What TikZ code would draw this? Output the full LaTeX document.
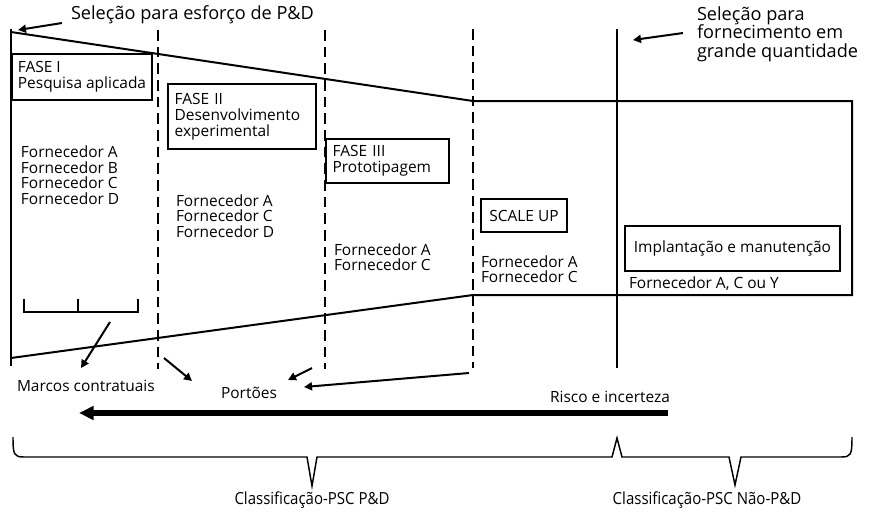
\documentclass[tikz,border=0pt]{standalone}
\usepackage{fontspec}
\setmainfont{Open Sans}
\newfontfamily\condfont[FakeStretch=0.9]{Open Sans}
\usetikzlibrary{arrows.meta}

\begin{document}
\begin{tikzpicture}[x=0.75pt,y=-0.75pt,line width=1.5pt,
    lbl/.style={font=\fontsize{11.6}{11.6}\selectfont, inner sep=0pt, align=left},
    head/.style={font=\fontsize{13.6}{14}\selectfont, inner sep=0pt, align=left},
    phase/.style={draw, line width=1.5pt, font=\fontsize{11.6}{12}\selectfont, align=left, inner xsep=5pt, inner ysep=0pt, anchor=north west},
    gate/.style={dash pattern=on 8pt off 4.5pt},
    pointer/.style={-{Triangle[length=6pt,width=6pt]}, line width=1.5pt}]
      \useasboundingbox (0,0) rectangle (869,512);

      % funnel
      \coordinate (tl) at (11,32);
      \coordinate (tm) at (473,101);
      \coordinate (tr) at (852,101);
      \coordinate (br) at (852,295);
      \coordinate (bm) at (473,295);
      \coordinate (bl) at (11,358);
      \draw[line join=miter] (tl) -- (tm) -- (tr) -- (br) -- (bm) -- (bl);
      \draw (11,29) -- (11,366);

      % gates
      \draw[gate] (158,30) -- (158,369);
      \draw[gate] (325,30) -- (325,369);
      \draw[gate] (473,29) -- (473,368);
      \draw (617,29) -- (617,368);

      % phases
      \node[phase, inner xsep=2pt, minimum width=105pt, minimum height=34.5pt] (f1) at (11,53) {FASE I\\Pesquisa aplicada};
      \node[phase, text width=101pt, minimum height=48.75pt] (f2) at (167,83) {FASE II\\Desenvolvimento\\experimental};
      \node[phase, text width=82.25pt, minimum height=33pt] (f3) at (325,138) {FASE III\\Prototipagem};
      \node[phase, align=center, minimum width=64.5pt, minimum height=24.75pt] (f4) at (480,198) {SCALE UP};
      \node[phase, align=center, minimum width=161.25pt, minimum height=33.75pt] (f5) at (624,225) {Implanta\c{c}\~ao e manuten\c{c}\~ao};

      % suppliers
      \node[lbl, anchor=west] (s1) at (20,175) {Fornecedor A\\Fornecedor B\\Fornecedor C\\Fornecedor D};
      \node[lbl, anchor=west] (s2) at (175,216) {Fornecedor A\\Fornecedor C\\Fornecedor D};
      \node[lbl, anchor=west] (s3) at (333,257) {Fornecedor A\\Fornecedor C};
      \node[lbl, anchor=west] (s4) at (480,269) {Fornecedor A\\Fornecedor C};
      \node[lbl, anchor=west] (s5) at (628,284) {Fornecedor A, C ou Y};

      % selections
      \node[head, anchor=west] (sel1) at (70,15) {Sele\c{c}\~ao para esfor\c{c}o de P\&D};
      \node[head, anchor=west] (sel2) at (696,34) {Sele\c{c}\~ao para\\fornecimento em\\grande quantidade};
      \coordinate (sel1tail) at (62,23);
      \coordinate (sel1tip) at (18,30);
      \coordinate (sel2tail) at (683,33);
      \coordinate (sel2tip) at (633,40);
      \draw[pointer] (sel1tail) -- (sel1tip);
      \draw[pointer] (sel2tail) -- (sel2tip);

      % milestones
      \draw (24,299) -- (24,312) -- (138,312) -- (138,299);
      \draw (78,312) -- (78,299);
      \node[lbl, anchor=west] (marcos) at (16,386) {Marcos contratuais};
      \coordinate (m1) at (110,322);
      \coordinate (m2) at (81,368);
      \draw[pointer] (m1) -- (m2);

      % gate labels
      \node[lbl] (portoes) at (249,393) {Port\~oes};
      \coordinate (g1) at (164,358);
      \coordinate (g2) at (192,381);
      \coordinate (g3) at (312,368);
      \coordinate (g4) at (288,380);
      \coordinate (g5) at (469,373);
      \coordinate (g6) at (304,387);
      \draw[pointer] (g1) -- (g2);
      \draw[pointer] (g3) -- (g4);
      \draw[pointer] (g5) -- (g6);

      % risk
      \node[lbl] (risco) at (610,397) {Risco e incerteza};
      \coordinate (risktail) at (668,413);
      \coordinate (riskhead) at (79,413);
      \draw[line width=5pt, -{Triangle[length=11pt,width=10pt]}] (risktail) -- (riskhead);

      % classification
      \draw[line width=1.1pt] (13,437) .. controls (13,455) and (14,457) .. (24,457) -- (307,457) -- (312,486) -- (317,457)
        -- (612,457) -- (617,438) -- (622,457) -- (729,457) -- (735,485) -- (741,457) -- (841,457)
        .. controls (851,457) and (852,455) .. (852,437);
      \node[font=\condfont\fontsize{12.5}{13}\selectfont, inner sep=0pt] (c1) at (312,500) {Classifica\c{c}\~ao-PSC P\&D};
      \node[font=\condfont\fontsize{12.5}{13}\selectfont, inner sep=0pt] (c2) at (707,500) {Classifica\c{c}\~ao-PSC N\~ao-P\&D};
    \end{tikzpicture}
\end{document}
